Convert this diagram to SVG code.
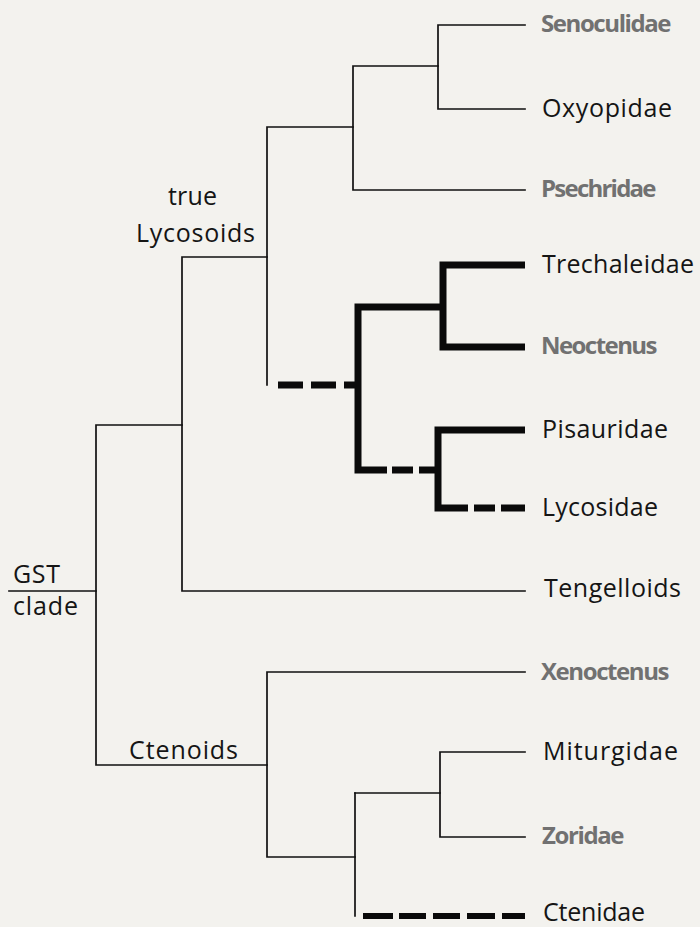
<svg xmlns="http://www.w3.org/2000/svg" width="700" height="927" viewBox="0 0 700 927">
<style>
.bg{fill:#f3f2ee}
.thin{fill:none;stroke:#111;stroke-width:1.7;stroke-linejoin:miter;stroke-linecap:square}
.thick{fill:none;stroke:#0a0a0a;stroke-width:7;stroke-linejoin:miter;stroke-linecap:butt}
.lab{font-family:"Open Sans","Liberation Sans",sans-serif;font-size:25px;fill:#151515}
.grey{font-family:"Open Sans","Liberation Sans",sans-serif;font-size:24px;font-weight:700;fill:#717171;letter-spacing:-1.5px}
</style>
<rect class="bg" x="0" y="0" width="700" height="927"/>
<g id="connectors">
<path class="thin" d="M525 25H438V109H525"/>
<path class="thin" d="M438 66H353V190H525"/>
<path class="thin" d="M353 127H267V385"/>
<path class="thin" d="M267 257H182V591H525"/>
<path class="thin" d="M182 425H96V765H267"/>
<path class="thin" d="M9 591H96"/>
<path class="thin" d="M525 672H267V857H355"/>
<path class="thin" d="M355 793V916"/>
<path class="thin" d="M355 793H440"/>
<path class="thin" d="M525 752H440V837H525"/>
<path class="thick" d="M278 385H303M311 385H336M344 385H358"/>
<path class="thick" d="M387 470H358V307H443"/>
<path class="thick" d="M525 265H443V347H525"/>
<path class="thick" d="M392 470H413M419 470H438"/>
<path class="thick" d="M525 430H438V508H468"/>
<path class="thick" d="M474 508H495M501 508H525"/>
<path class="thick" d="M363 916H393M399 916H426M433 916H460M467 916H495M502 916H525" style="stroke-width:6"/>
</g>
<g id="senoculidae"><text class="grey" x="541" y="32" textLength="129">Senoculidae</text></g>
<g id="oxyopidae"><text class="lab" x="542" y="117" textLength="130">Oxyopidae</text></g>
<g id="psechridae"><text class="grey" x="541" y="197" textLength="114">Psechridae</text></g>
<g id="trechaleidae"><text class="lab" x="542" y="273" textLength="152">Trechaleidae</text></g>
<g id="neoctenus"><text class="grey" x="541" y="354" textLength="115">Neoctenus</text></g>
<g id="pisauridae"><text class="lab" x="542" y="438" textLength="126">Pisauridae</text></g>
<g id="lycosidae"><text class="lab" x="542" y="516" textLength="116">Lycosidae</text></g>
<g id="tengelloids"><text class="lab" x="544" y="597" textLength="137">Tengelloids</text></g>
<g id="xenoctenus"><text class="grey" x="541" y="680" textLength="127">Xenoctenus</text></g>
<g id="miturgidae"><text class="lab" x="543" y="760" textLength="135">Miturgidae</text></g>
<g id="zoridae"><text class="grey" x="542" y="844" textLength="81">Zoridae</text></g>
<g id="ctenidae"><text class="lab" x="543" y="921" textLength="102">Ctenidae</text></g>
<g id="true-lycosoids">
<text class="lab" x="168" y="205" textLength="49">true</text>
<text class="lab" x="136" y="242" textLength="119">Lycosoids</text>
</g>
<g id="gst-clade">
<text class="lab" x="13" y="583" textLength="47">GST</text>
<text class="lab" x="13" y="615" textLength="65">clade</text>
</g>
<g id="ctenoids"><text class="lab" x="129" y="759" textLength="109">Ctenoids</text></g>
</svg>
